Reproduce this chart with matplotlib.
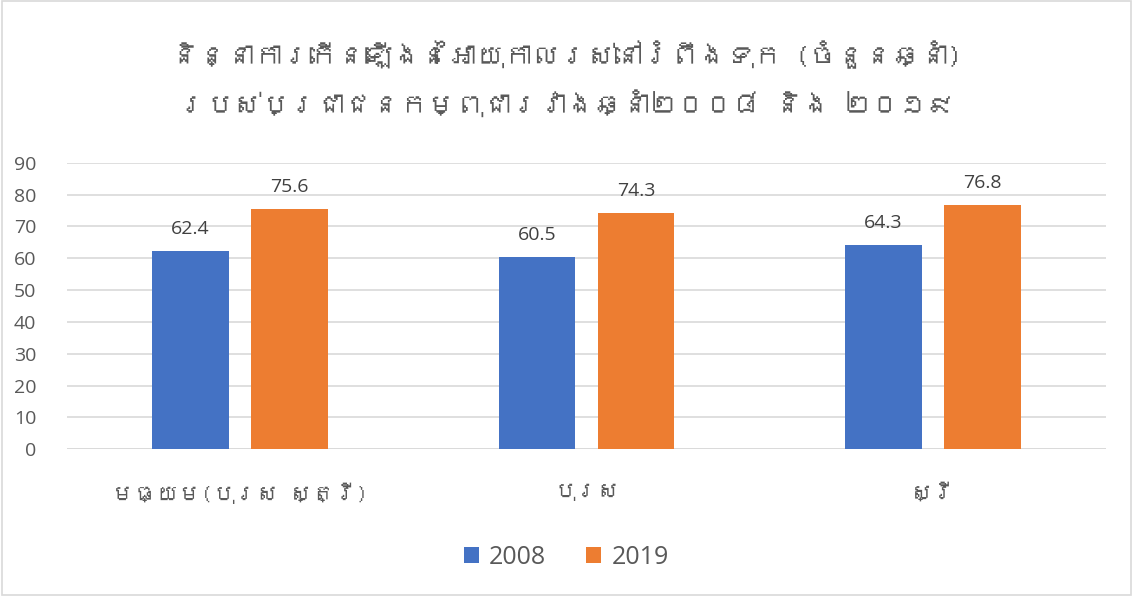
import matplotlib
matplotlib.use("Agg")
import matplotlib.pyplot as plt
from matplotlib import font_manager
from matplotlib.ft2font import FT2Font
import numpy as np

categories = ["មធ្យម(បុរស ស្ត្រី)", "បុរស", "ស្រី"]
series_names = ["2008", "2019"]
values_2008 = [62.4, 60.5, 64.3]
values_2019 = [75.6, 74.3, 76.8]
title_lines = ["និន្នាការកើនឡើងនៃអាយុកាលរស់នៅរំពឹងទុក (ចំនួនឆ្នាំ)",
               "របស់ប្រជាជនកម្ពុជារវាងឆ្នាំ២០០៨ និង ២០១៩"]
yticks = list(range(0, 91, 10))

# find a font with Khmer glyphs, if any
khmer_family = None
for f in font_manager.fontManager.ttflist:
    try:
        cm = FT2Font(f.fname).get_charmap()
        if 0x1780 in cm and 0x17D2 in cm:
            khmer_family = f.name
            break
    except Exception:
        pass

base = "Open Sans"
fam = ([khmer_family] if khmer_family else []) + [base, "DejaVu Sans"]
plt.rcParams['font.family'] = [base, "DejaVu Sans"]

text_color = "#595959"
c2008 = "#4472C4"
c2019 = "#ED7D31"

fig = plt.figure(figsize=(11.33, 5.96), dpi=100)
ax = fig.add_axes([67/1133, 1-449.3/596, (1106-67)/1133, (449.3-162.7)/596])

x = np.arange(len(categories))
w = 0.222
off = 0.143
b1 = ax.bar(x - off, values_2008, w, color=c2008, label=series_names[0], zorder=3)
b2 = ax.bar(x + off, values_2019, w, color=c2019, label=series_names[1], zorder=3)

for bars, vals in ((b1, values_2008), (b2, values_2019)):
    for r, v in zip(bars, vals):
        ax.annotate(f"{v:.1f}", (r.get_x() + r.get_width()/2, v),
                    xytext=(0, 9), textcoords="offset points",
                    ha="center", va="bottom", fontsize=14, color="#404040")

ax.set_xlim(-0.5, 2.5)
ax.set_ylim(0, 90)
ax.set_yticks(yticks)
ax.set_yticklabels([str(t) for t in yticks], fontsize=14, color=text_color)
ax.yaxis.grid(True, color="#D9D9D9", linewidth=1.2, zorder=0)
ax.tick_params(axis="y", length=0, pad=22)
ax.tick_params(axis="x", length=0, pad=24)
ax.set_xticks(x)
ax.set_xticklabels(categories, fontsize=16, color=text_color, family=fam)
for s in ax.spines.values():
    s.set_visible(False)
ax.axhline(0, color="#D9D9D9", linewidth=1.2, zorder=2)

fig.text(0.5, 1-55/596, title_lines[0], ha="center", va="center",
         fontsize=20, color=text_color, family=fam)
fig.text(0.5, 1-103/596, title_lines[1], ha="center", va="center",
         fontsize=20, color=text_color, family=fam)

leg = fig.legend(handles=[b1, b2], labels=series_names, loc="center",
                 bbox_to_anchor=(0.5, 1-557/596), ncol=2, frameon=False,
                 fontsize=18, handlelength=0.6, handleheight=0.6,
                 columnspacing=1.6, handletextpad=0.4)
for t in leg.get_texts():
    t.set_color(text_color)

border = plt.Rectangle((0.002, 0.002), 0.996, 0.996, transform=fig.transFigure,
                       fill=False, edgecolor="#D9D9D9", linewidth=1.2)
fig.add_artist(border)

fig.savefig("out.png", dpi=100)
